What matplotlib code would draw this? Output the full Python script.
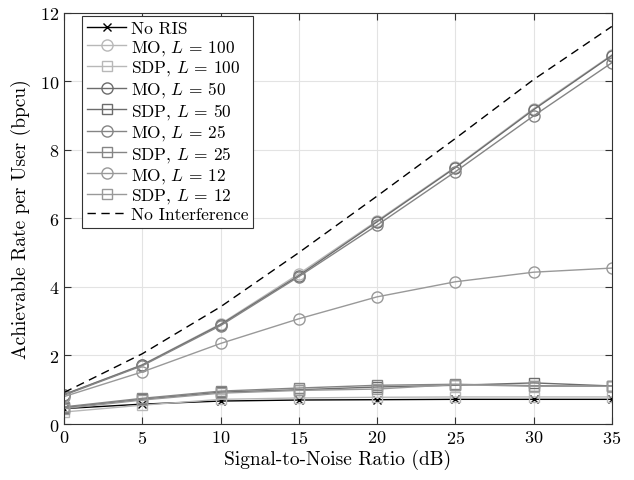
import numpy as np
import matplotlib
matplotlib.use("Agg")
import matplotlib.pyplot as plt

plt.rcParams['font.family'] = ['cmr10', 'DejaVu Serif']
plt.rcParams['mathtext.fontset'] = 'cm'
plt.rcParams['axes.formatter.use_mathtext'] = True

snr = [0, 5, 10, 15, 20, 25, 30, 35]

no_ris = [0.45, 0.58, 0.67, 0.70, 0.71, 0.72, 0.72, 0.72]
mo_100 = [0.86, 1.73, 2.92, 4.38, 5.93, 7.50, 9.20, 10.77]
sdp_100 = [0.35, 0.55, 0.72, 0.76, 0.78, 0.79, 0.79, 0.79]
mo_50 = [0.86, 1.72, 2.90, 4.33, 5.90, 7.48, 9.17, 10.75]
sdp_50 = [0.48, 0.72, 0.93, 1.00, 1.08, 1.13, 1.20, 1.11]
mo_25 = [0.84, 1.70, 2.87, 4.30, 5.80, 7.36, 8.99, 10.54]
sdp_25 = [0.50, 0.75, 0.96, 1.05, 1.13, 1.16, 1.12, 1.10]
mo_12 = [0.80, 1.52, 2.35, 3.07, 3.71, 4.15, 4.43, 4.55]
sdp_12 = [0.45, 0.70, 0.90, 0.98, 1.02, 1.15, 1.10, 1.10]
no_interf = [0.92, 2.05, 3.42, 5.00, 6.65, 8.33, 10.05, 11.60]

fig = plt.figure(figsize=(6.34, 4.81), dpi=100)
ax = fig.add_axes([0.101, 0.1164, 0.864, 0.855])

lw = 1.0
ms = 8
ax.plot(snr, no_ris, color='black', marker='x', ms=6, lw=lw, label='No RIS')
ax.plot(snr, mo_100, color='#b8b8b8', marker='o', ms=ms, mfc='none', lw=lw, label='MO, $L$ = 100')
ax.plot(snr, sdp_100, color='#b8b8b8', marker='s', ms=7, mfc='none', lw=lw, label='SDP, $L$ = 100')
ax.plot(snr, mo_50, color='#6c6c6c', marker='o', ms=ms, mfc='none', lw=lw, label='MO, $L$ = 50')
ax.plot(snr, sdp_50, color='#6c6c6c', marker='s', ms=7, mfc='none', lw=lw, label='SDP, $L$ = 50')
ax.plot(snr, mo_25, color='#858585', marker='o', ms=ms, mfc='none', lw=lw, label='MO, $L$ = 25')
ax.plot(snr, sdp_25, color='#858585', marker='s', ms=7, mfc='none', lw=lw, label='SDP, $L$ = 25')
ax.plot(snr, mo_12, color='#999999', marker='o', ms=ms, mfc='none', lw=lw, label='MO, $L$ = 12')
ax.plot(snr, sdp_12, color='#999999', marker='s', ms=7, mfc='none', lw=lw, label='SDP, $L$ = 12')
ax.plot(snr, no_interf, color='black', ls=(0, (6, 4)), lw=lw, label='No Interference')

ax.set_xlim(0, 35)
ax.set_ylim(0, 12)
ax.set_xticks(range(0, 36, 5))
ax.set_yticks(range(0, 13, 2))
ax.grid(True, color='#e3e3e3', lw=0.8)
ax.set_axisbelow(True)
ax.tick_params(direction='in', top=True, right=True, labelsize=13, length=5, width=0.8, color='#333333')
for s in ax.spines.values():
    s.set_color('#333333')
    s.set_linewidth(0.8)

ax.set_xlabel('Signal-to-Noise Ratio (dB)', fontsize=14, labelpad=2)
ax.set_ylabel('Achievable Rate per User (bpcu)', fontsize=14, labelpad=6)

leg = ax.legend(loc='upper left', bbox_to_anchor=(0.033, 0.993), fontsize=12.5,
                frameon=True, fancybox=False, edgecolor='#333333', framealpha=1,
                handlelength=2.25, labelspacing=0.1, borderpad=0.3,
                handletextpad=0.25, borderaxespad=0)
leg.get_frame().set_linewidth(0.8)

fig.savefig('out.png', dpi=100)
